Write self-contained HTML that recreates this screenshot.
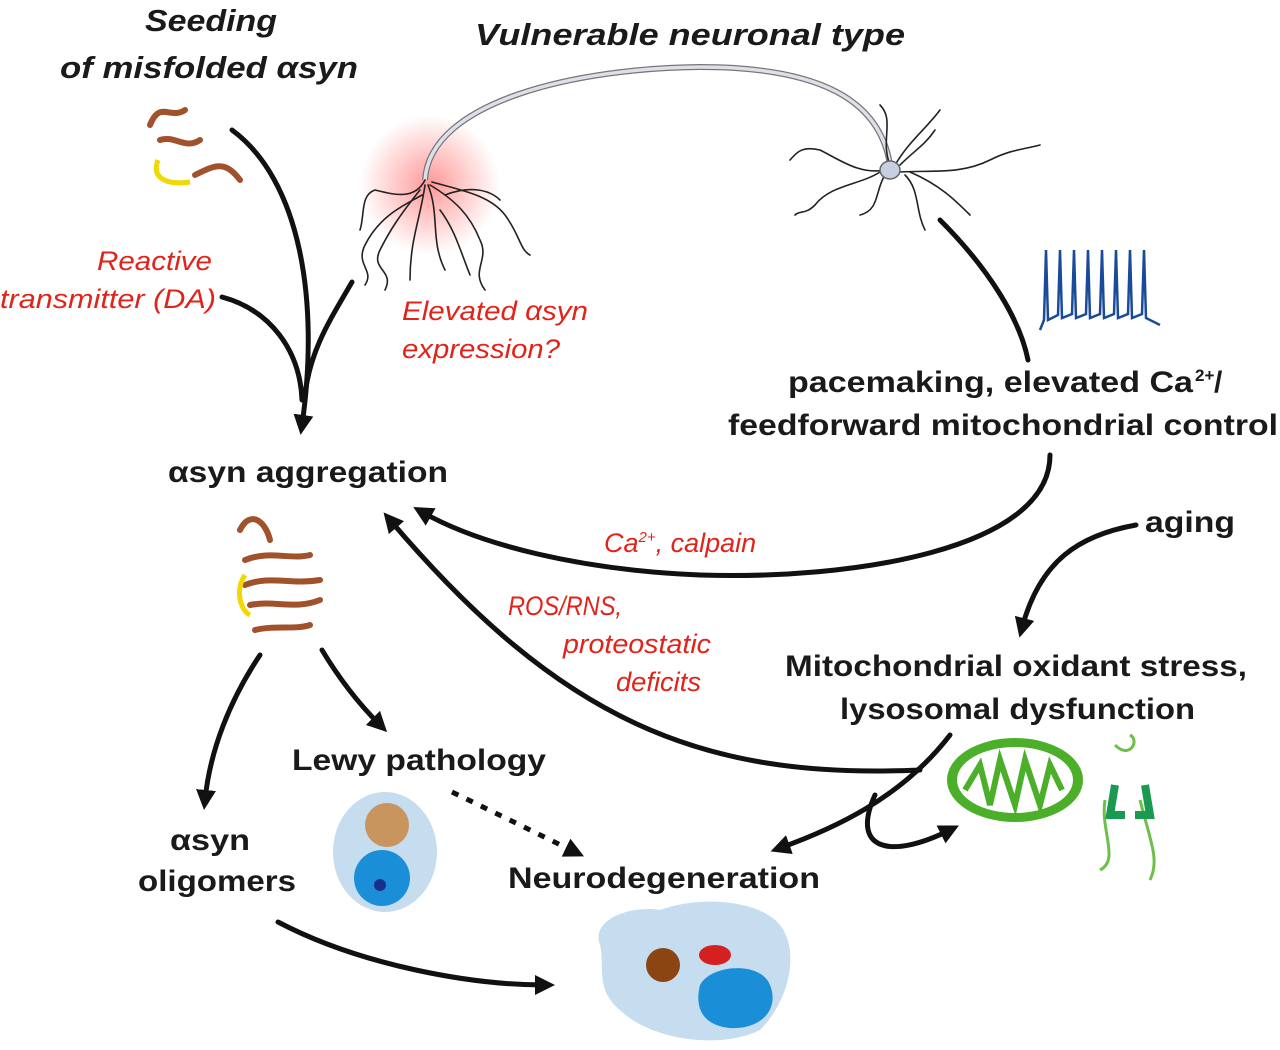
<!DOCTYPE html>
<html><head><meta charset="utf-8"><style>
html,body{margin:0;padding:0;background:#fff;}
svg{display:block}
.b{font-family:"Liberation Sans",sans-serif;font-weight:bold;font-size:30px;fill:#1a1a1a}
.bi{font-family:"Liberation Sans",sans-serif;font-weight:bold;font-style:italic;font-size:31px;fill:#1a1a1a}
.r{font-family:"Liberation Sans",sans-serif;font-style:italic;font-size:27px;fill:#e2231a}
.a{fill:none;stroke:#111;stroke-width:5;stroke-linecap:round}
.d{fill:none;stroke:#222;stroke-width:1.6;stroke-linecap:round}
</style></head><body>
<svg width="1280" height="1050" viewBox="0 0 1280 1050" xmlns="http://www.w3.org/2000/svg">
<defs>
<marker id="ah" viewBox="0 0 10 10" refX="5" refY="5" markerWidth="4" markerHeight="4" orient="auto-start-reverse"><path d="M0,0 L10,5 L0,10 z" fill="#111"/></marker>
<radialGradient id="glow"><stop offset="0" stop-color="#f44" stop-opacity="0.55"/><stop offset="1" stop-color="#f44" stop-opacity="0"/></radialGradient>
</defs>

<text class="bi" x="145" y="31" textLength="132" lengthAdjust="spacingAndGlyphs">Seeding</text>
<text class="bi" x="60" y="78" textLength="298" lengthAdjust="spacingAndGlyphs">of misfolded αsyn</text>
<text class="bi" x="475" y="45" textLength="430" lengthAdjust="spacingAndGlyphs">Vulnerable neuronal type</text>
<text class="r" x="97" y="270" textLength="115" lengthAdjust="spacingAndGlyphs">Reactive</text>
<text class="r" x="0" y="308" textLength="216" lengthAdjust="spacingAndGlyphs">transmitter (DA)</text>
<text class="r" x="402" y="320" textLength="186" lengthAdjust="spacingAndGlyphs">Elevated αsyn</text>
<text class="r" x="402" y="358" textLength="158" lengthAdjust="spacingAndGlyphs">expression?</text>
<text class="b" x="788" y="392" textLength="405" lengthAdjust="spacingAndGlyphs">pacemaking, elevated Ca</text>
<text class="b" x="1195" y="381" style="font-size:17px">2+</text>
<text class="b" x="1214" y="392">/</text>
<text class="b" x="728" y="435" textLength="550" lengthAdjust="spacingAndGlyphs">feedforward mitochondrial control</text>
<text class="b" x="168" y="482" textLength="280" lengthAdjust="spacingAndGlyphs">αsyn aggregation</text>
<text class="b" x="1145" y="532" textLength="90" lengthAdjust="spacingAndGlyphs">aging</text>
<text class="r" x="604" y="552">Ca<tspan style="font-size:15px" dy="-10">2+</tspan><tspan dy="10">, calpain</tspan></text>
<text class="r" x="508" y="615" textLength="114" lengthAdjust="spacingAndGlyphs">ROS/RNS,</text>
<text class="r" x="563" y="653" textLength="148" lengthAdjust="spacingAndGlyphs">proteostatic</text>
<text class="r" x="616" y="691" textLength="85" lengthAdjust="spacingAndGlyphs">deficits</text>
<text class="b" x="785" y="676" textLength="462" lengthAdjust="spacingAndGlyphs">Mitochondrial oxidant stress,</text>
<text class="b" x="840" y="719" textLength="355" lengthAdjust="spacingAndGlyphs">lysosomal dysfunction</text>
<text class="b" x="292" y="770" textLength="254" lengthAdjust="spacingAndGlyphs">Lewy pathology</text>
<text class="b" x="170" y="850" textLength="80" lengthAdjust="spacingAndGlyphs">αsyn</text>
<text class="b" x="138" y="891" textLength="158" lengthAdjust="spacingAndGlyphs">oligomers</text>
<text class="b" x="508" y="888" textLength="312" lengthAdjust="spacingAndGlyphs">Neurodegeneration</text>

<!-- neuron -->
<circle cx="430" cy="185" r="70" fill="url(#glow)"/>
<path d="M425,180 C430,100 580,68 700,67 C820,67 880,100 890,165" fill="none" stroke="#777" stroke-width="6"/>
<path d="M425,180 C430,100 580,68 700,67 C820,67 880,100 890,165" fill="none" stroke="#dde0ea" stroke-width="3.5"/>
<g class="d">
<path d="M425,180 C415,200 395,195 375,190 C360,195 365,215 360,230"/>
<path d="M420,190 C400,215 390,230 380,250 C370,270 395,270 385,290"/>
<path d="M425,185 C420,220 410,240 410,280"/>
<path d="M428,185 C440,215 430,240 445,270"/>
<path d="M430,185 C455,200 470,215 480,240 C490,260 470,270 485,290"/>
<path d="M432,182 C460,190 490,195 505,215 C520,235 520,250 530,255"/>
<path d="M422,195 C405,205 380,215 365,245 C355,265 375,270 365,285"/>
<path d="M440,210 C455,230 460,250 470,275"/>
<path d="M445,195 C470,185 490,190 500,200"/>
</g>
<g class="d">
<path d="M885,170 C860,175 840,160 820,150 C800,145 795,155 790,160"/>
<path d="M880,172 C860,185 830,185 815,205 C805,215 800,210 795,215"/>
<path d="M885,175 C875,190 880,210 860,215"/>
<path d="M890,165 C880,140 895,120 880,105"/>
<path d="M895,165 C910,140 925,130 940,110"/>
<path d="M900,172 C930,170 960,175 990,160 C1010,150 1020,150 1040,145"/>
<path d="M905,175 C920,190 915,210 925,230"/>
<path d="M910,172 C940,185 955,200 970,215"/>
<path d="M900,165 C915,150 925,145 935,130"/>
</g>
<ellipse cx="890" cy="170" rx="10" ry="9" fill="#c9cfe3" stroke="#666" stroke-width="1.5"/>
<path d="M1040,330 L1044,320 L1046,250 L1048,320 L1058,315 L1060,250 L1062,318 L1072,314 L1074,250 L1076,318 L1086,314 L1088,250 L1090,318 L1100,314 L1102,250 L1104,318 L1114,314 L1116,250 L1118,318 L1128,314 L1130,250 L1132,318 L1142,314 L1144,250 L1146,318 L1160,325" fill="none" stroke="#1a4a9a" stroke-width="2.5"/>

<!-- arrows -->
<path class="a" d="M232,130 C300,180 320,300 302,425" marker-end="url(#ah)"/>
<path class="a" d="M222,297 C270,310 300,350 302,400"/>
<path class="a" d="M352,282 C330,320 310,350 305,395"/>
<path class="a" d="M940,220 C990,270 1020,320 1028,360"/>
<path class="a" d="M1050,455 C1050,550 850,580 700,575 C580,570 480,545 422,512" marker-end="url(#ah)"/>
<path class="a" d="M1136,525 C1080,535 1040,560 1022,628" marker-end="url(#ah)"/>
<path class="a" d="M920,770 C700,780 560,720 390,520" marker-end="url(#ah)"/>
<path class="a" d="M950,735 C900,800 830,830 780,848" marker-end="url(#ah)"/>
<path class="a" d="M875,795 C850,850 890,860 950,830" marker-end="url(#ah)"/>
<path class="a" d="M260,655 C230,700 210,750 205,800" marker-end="url(#ah)"/>
<path class="a" d="M322,650 C340,680 360,705 380,725" marker-end="url(#ah)"/>
<path class="a" d="M278,922 C360,965 470,985 545,985" marker-end="url(#ah)"/>
<path d="M452,792 C500,815 540,835 575,852" fill="none" stroke="#111" stroke-width="5" stroke-dasharray="7,9" marker-end="url(#ah)"/>

<!-- seeds / aggregates -->
<g fill="none" stroke="#a0522d" stroke-width="6" stroke-linecap="round">
<path d="M150,125 C160,100 170,120 185,110"/><path d="M160,140 C175,135 185,150 200,140"/>
<path d="M195,175 C215,165 225,160 240,180"/>
<path d="M240,530 C250,510 265,520 270,540"/><path d="M245,560 C270,550 290,560 310,555"/>
<path d="M245,585 C270,575 290,585 320,580"/><path d="M250,605 C275,600 295,610 320,600"/>
<path d="M255,630 C275,625 295,630 310,625"/>
</g>
<path d="M158,160 C150,180 170,185 190,182" fill="none" stroke="#f0d800" stroke-width="5"/>
<path d="M245,575 C235,590 240,610 250,615" fill="none" stroke="#f0d800" stroke-width="5"/>

<!-- lewy -->
<ellipse cx="385" cy="852" rx="52" ry="60" fill="#c6dcef"/>
<circle cx="387" cy="825" r="22" fill="#c9955e"/>
<circle cx="382" cy="878" r="28" fill="#1a8fd8"/>
<circle cx="380" cy="885" r="6" fill="#1a2f8a"/>

<!-- neurodegeneration cell -->
<path d="M600,945 C590,920 630,905 660,910 C700,895 760,900 780,925 C800,950 790,1000 760,1030 C720,1050 650,1040 620,1010 C595,990 605,965 600,945z" fill="#c6dcef"/>
<circle cx="663" cy="965" r="17" fill="#8b4513"/>
<ellipse cx="715" cy="955" rx="16" ry="10" fill="#d42020"/>
<path d="M700,985 C710,965 760,960 770,985 C780,1010 760,1030 730,1028 C700,1025 695,1005 700,985z" fill="#1a8fd8"/>

<!-- mitochondrion -->
<ellipse cx="1015" cy="780" rx="68" ry="42" fill="#4caf2a"/>
<ellipse cx="1015" cy="780" rx="58" ry="33" fill="#fff"/>
<path d="M965,790 L980,765 L990,805 L1000,760 L1015,805 L1025,760 L1040,805 L1050,765 L1062,790" fill="none" stroke="#4caf2a" stroke-width="6"/>
<path d="M1115,745 C1130,760 1140,740 1130,735 M1105,800 C1100,830 1120,860 1100,870 M1140,800 C1150,840 1160,860 1150,880" fill="none" stroke="#6cc04a" stroke-width="3"/>
<path d="M1115,785 L1110,815 L1125,815 M1145,785 L1150,815 L1135,815" fill="none" stroke="#1a9a50" stroke-width="8"/>
</svg>
</body></html>
